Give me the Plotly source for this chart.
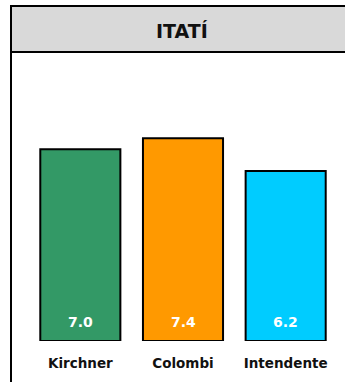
import plotly.graph_objects as go

title = "ITATÍ"
categories = ["Kirchner", "Colombi", "Intendente"]
values = [7.0, 7.4, 6.2]
colors = ["#339966", "#ff9900", "#00ccff"]

W, H = 345, 382
fig = go.Figure()
fig.add_trace(go.Bar(
    x=categories, y=values,
    marker=dict(color=colors, line=dict(color="#000000", width=2)),
    width=0.78, hoverinfo="skip",
))
for c, v in zip(categories, values):
    fig.add_annotation(x=c, y=0, text=f"<b>{v:.1f}</b>", showarrow=False,
                       yshift=19, yanchor="middle",
                       font=dict(family="DejaVu Sans", size=14, color="white"))

fig.add_shape(type="rect", xref="paper", yref="paper",
              x0=11/W, x1=1.05, y0=1-52/H, y1=1-6/H,
              fillcolor="#d9d9d9", line=dict(color="black", width=2), layer="above")
fig.add_shape(type="line", xref="paper", yref="paper",
              x0=11/W, x1=11/W, y0=-0.05, y1=1-52/H,
              line=dict(color="black", width=2))
fig.add_annotation(xref="paper", yref="paper", x=(11+353)/2/W, y=1-31/H,
                   text=f"<b>{title}</b>", showarrow=False, yanchor="middle",
                   font=dict(family="DejaVu Sans", size=19, color="#111111"))

fig.update_layout(
    width=W, height=H, margin=dict(l=0, r=0, t=0, b=0),
    paper_bgcolor="white", plot_bgcolor="white", showlegend=False,
    xaxis=dict(domain=[29/W, 337/W], showgrid=False, showline=False, ticks="",
               tickfont=dict(family="DejaVu Sans", size=13.5, color="#111111"),
               ticklabelstandoff=12),
    yaxis=dict(domain=[41/H, 315/H], range=[0, 10], visible=False),
    font=dict(family="DejaVu Sans"),
)
fig.update_xaxes(tickvals=categories, ticktext=[f"<b>{c}</b>" for c in categories])
fig.write_html("out.html", post_script="document.body.style.margin='0';",
               config={"displayModeBar": False})
